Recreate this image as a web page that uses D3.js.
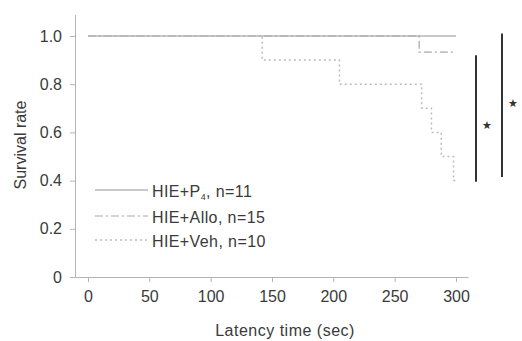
<!DOCTYPE html>
<html>
<head>
<meta charset="utf-8">
<script src="https://cdn.jsdelivr.net/npm/d3@7"></script>
<style>
  body { margin: 0; background: #fff; }
  svg { font-family: Arial, "Liberation Sans", sans-serif; }
  .axis path, .axis line { stroke: #b4b4b4; }
  .axis text { fill: #3a3a3a; font-size: 16px; }
</style>
</head>
<body>
<div id="chart"></div>
<script>
// survival curves: [time (sec), survival rate]
const p4Steps = [[0, 1.0], [300, 1.0]];
const alloSteps = [[0, 1.0], [270, 1.0], [270, 0.933], [300, 0.933]];
const vehSteps = [[0, 1.0], [142, 1.0], [142, 0.9], [205, 0.9], [205, 0.8], [272, 0.8], [272, 0.7],
  [280, 0.7], [280, 0.6], [288, 0.6], [288, 0.5], [298, 0.5], [298, 0.4], [300, 0.4]];
const xTicks = [0, 50, 100, 150, 200, 250, 300];
const yTicks = [0, 0.2, 0.4, 0.6, 0.8, 1.0];
const legendLabels = ["HIE+P", "HIE+Allo, n=15", "HIE+Veh, n=10"];
// significance brackets: [top, bottom, star] in survival rate
const sigBars = [[0.92, 0.395, 0.63], [1.01, 0.415, 0.72]];

const width = 522, height = 341;
const svg = d3.select("#chart").append("svg")
  .attr("width", width).attr("height", height);

const x = d3.scaleLinear().domain([-10.6, 309.8]).range([75, 468]);
const y = d3.scaleLinear().domain([0, 1.09]).range([277, 14.3]);

svg.append("g")
  .attr("class", "axis")
  .attr("transform", "translate(0,277)")
  .call(d3.axisBottom(x).tickValues(xTicks).tickSize(5).tickPadding(9).tickSizeOuter(0));

svg.append("g")
  .attr("class", "axis")
  .attr("transform", "translate(75,0)")
  .call(d3.axisLeft(y).tickValues(yTicks).tickSize(5).tickPadding(8).tickSizeOuter(0)
    .tickFormat(d => d === 0 ? "0" : d3.format(".1f")(d)));

svg.append("text")
  .attr("x", 285).attr("y", 336)
  .attr("text-anchor", "middle")
  .attr("fill", "#3a3a3a").attr("font-size", 16)
  .attr("letter-spacing", 0.5)
  .text("Latency time (sec)");

svg.append("text")
  .attr("transform", "translate(26,145) rotate(-90)")
  .attr("text-anchor", "middle")
  .attr("fill", "#3a3a3a").attr("font-size", 16)
  .text("Survival rate");

const line = d3.line().x(d => x(d[0])).y(d => y(d[1]));

const styles = [
  { stroke: "#c8c8c8", width: 2, dash: null },
  { stroke: "#a8a8a8", width: 1.2, dash: "8,3,2,3" },
  { stroke: "#bcbcbc", width: 1.5, dash: "2,3" }
];

[p4Steps, alloSteps, vehSteps].forEach((s, i) => {
  svg.append("path")
    .datum(s)
    .attr("d", line)
    .attr("fill", "none")
    .attr("stroke", styles[i].stroke)
    .attr("stroke-width", styles[i].width)
    .attr("stroke-dasharray", styles[i].dash);
});

// legend
const legendY = [190, 216, 240];
legendLabels.forEach((lab, i) => {
  svg.append("line")
    .attr("x1", 95).attr("x2", 148)
    .attr("y1", legendY[i]).attr("y2", legendY[i])
    .attr("stroke", styles[i].stroke)
    .attr("stroke-width", styles[i].width)
    .attr("stroke-dasharray", styles[i].dash);
  const t = svg.append("text")
    .attr("x", 152).attr("y", legendY[i] + 7)
    .attr("fill", "#3a3a3a").attr("font-size", 16)
    .attr("letter-spacing", 0.4)
    .text(lab);
  if (i === 0) {
    t.append("tspan").attr("font-size", 9).attr("dy", 3).text("4");
    t.append("tspan").attr("dy", -3).text(", n=11");
  }
});

// significance bars
const barX = [476, 502];
sigBars.forEach((b, i) => {
  svg.append("line")
    .attr("x1", barX[i]).attr("x2", barX[i])
    .attr("y1", y(b[0])).attr("y2", y(b[1]))
    .attr("stroke", "#333").attr("stroke-width", 2);
  svg.append("text")
    .attr("x", barX[i] + 11).attr("y", y(b[2]) + 4)
    .attr("text-anchor", "middle")
    .attr("fill", "#333").attr("font-size", 11)
    .text("\u2605");
});
</script>
</body>
</html>
